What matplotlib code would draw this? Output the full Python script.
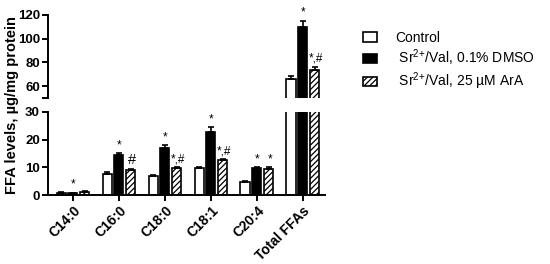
import matplotlib
matplotlib.use("Agg")
import matplotlib.pyplot as plt
import numpy as np

plt.rcParams['font.family'] = ['Liberation Sans', 'DejaVu Sans']
plt.rcParams['mathtext.fontset'] = 'custom'
plt.rcParams['mathtext.rm'] = 'Liberation Sans'
plt.rcParams['mathtext.default'] = 'regular'
plt.rcParams['hatch.linewidth'] = 0.9

# Data
categories = ["C14:0", "C16:0", "C18:0", "C18:1", "C20:4", "Total FFAs"]
control = [1.0, 7.8, 7.0, 9.7, 4.6, 66.5]
dmso = [0.8, 14.3, 17.0, 22.6, 9.9, 110.0]
ara = [1.1, 9.0, 9.7, 12.7, 9.6, 74.0]
control_err = [0.3, 0.5, 0.4, 0.4, 0.4, 2.5]
dmso_err = [0.2, 0.9, 1.0, 1.8, 0.3, 4.5]
ara_err = [0.3, 0.4, 0.4, 0.3, 0.5, 2.0]
dmso_sig = ["*", "*", "*", "*", "*", "*"]
ara_sig = ["", "#", "*,#", "*,#", "*", "*,#"]
labels = ["Control", " Sr$^{2}$$^{+}$/Val, 0.1% DMSO", " Sr$^{2}$$^{+}$/Val, 25 \u00b5M ArA"]

fig = plt.figure(figsize=(5.5, 2.64), dpi=100)
left, width = 0.0878, 0.503
ax_top = fig.add_axes([left, 0.6277, width, 0.3166])
ax_bot = fig.add_axes([left, 0.2602, width, 0.3166])

x = np.arange(len(categories))
w = 0.196
step = 0.26
series = [
    (control, control_err, dict(color="white", edgecolor="black", hatch=None)),
    (dmso, dmso_err, dict(color="black", edgecolor="black", hatch=None)),
    (ara, ara_err, dict(color="white", edgecolor="black", hatch="//////")),
]

handles = []
for ax in (ax_top, ax_bot):
    for k, (vals, errs, st) in enumerate(series):
        pos = x + (k - 1) * step
        b = ax.bar(pos, vals, width=w, linewidth=1.2, **st)
        ax.errorbar(pos, vals, yerr=[np.zeros(len(errs)), errs], fmt="none",
                    ecolor="black", elinewidth=1.2, capsize=2.5, capthick=1.2)
        if ax is ax_bot:
            handles.append(b)

# significance marks
for i in range(len(categories)):
    ax = ax_top if dmso[i] > 30 else ax_bot
    off = 2.0 if ax is ax_top else 0.6
    ax.text(x[i], dmso[i] + dmso_err[i] + off, dmso_sig[i], ha="center",
            va="bottom", fontsize=8.5)
    if ara_sig[i]:
        ax.text(x[i] + step + 0.03, ara[i] + ara_err[i] + off, ara_sig[i],
                ha="center", va="bottom", fontsize=8.5 if ara_sig[i] != "#" else 10.5)

for ax in (ax_top, ax_bot):
    ax.set_xlim(-0.537, 5.478)
    for s in ["top", "right"]:
        ax.spines[s].set_visible(False)
    for s in ["left", "bottom"]:
        ax.spines[s].set_linewidth(1.4)
    ax.tick_params(width=1.4, length=4, pad=2)

ax_top.set_ylim(50, 120)
ax_top.set_yticks([60, 80, 100, 120])
ax_top.set_yticks([50], minor=True)
ax_top.tick_params(axis="y", which="minor", length=4, width=1.4)
ax_top.spines["bottom"].set_visible(False)
ax_top.set_xticks([])
ax_top.set_yticklabels(["60", "80", "100", "120"], fontweight="bold", fontsize=9.5)

ax_bot.set_ylim(0, 30)
ax_bot.set_yticks([0, 10, 20, 30])
ax_bot.set_yticklabels(["0", "10", "20", "30"], fontweight="bold", fontsize=9.5)
ax_bot.set_xticks(x)
ax_bot.set_xticklabels(categories, rotation=45, ha="right", rotation_mode="anchor",
                       fontweight="bold", fontsize=10)

fig.text(0.022, 0.602, "FFA levels, \u00b5g/mg protein", rotation=90, ha="center",
         va="center", fontsize=10.5, fontweight="bold")

fig.legend(handles, labels, loc="upper left", bbox_to_anchor=(0.66, 0.882),
           frameon=False, fontsize=10, handlelength=1.0, handleheight=0.7,
           handletextpad=1.3, labelspacing=0.18, borderpad=0, borderaxespad=0)

fig.savefig("out.png", dpi=100)
